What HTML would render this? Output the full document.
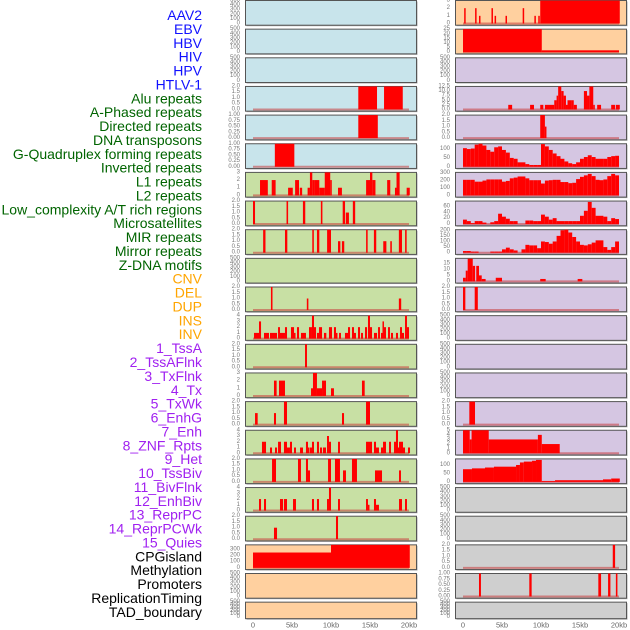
<!DOCTYPE html>
<html><head><meta charset="utf-8"><style>
html,body{margin:0;padding:0;background:#fff;}
svg{display:block;font-family:"Liberation Sans",sans-serif;}
</style></head><body>
<svg id="chart" width="630" height="630" viewBox="0 0 630 630" xmlns="http://www.w3.org/2000/svg"></svg>
<script>
// ---- labels ----
const labelTexts = ["AAV2","EBV","HBV","HIV","HPV","HTLV-1","Alu repeats","A-Phased repeats","Directed repeats","DNA transposons","G-Quadruplex forming repeats","Inverted repeats","L1 repeats","L2 repeats","Low_complexity A/T rich regions","Microsatellites","MIR repeats","Mirror repeats","Z-DNA motifs","CNV","DEL","DUP","INS","INV","1_TssA","2_TssAFlnk","3_TxFlnk","4_Tx","5_TxWk","6_EnhG","7_Enh","8_ZNF_Rpts","9_Het","10_TssBiv","11_BivFlnk","12_EnhBiv","13_ReprPC","14_ReprPCWk","15_Quies","CPGisland","Methylation","Promoters","ReplicationTiming","TAD_boundary"];
const labelGroups = [6,13,5,15,5];
const groupColors = ["#1010ff","#006400","#ffa500","#a020f0","#000000"];
const xTickLabels = ["0","5kb","10kb","15kb","20kb"];
const xTickKb = [0,5,10,15,20];

// ---- data: segments [startKb, endKb, value] ----
const ebv = [[0.15,0.3,2],[1.55,1.7,2],[2.05,2.2,1],[3.65,3.8,2],[4.05,4.2,1],[5.45,5.6,1],[7.65,7.8,2],[9.15,9.3,1],[9.65,9.8,1],[9.9,20.1,3]];
const hiv = [[0,10.1,25],[10.1,20,2]];
const alu = [[13.5,15.9,2],[16.8,19.2,2]];
const aphased = [[5.8,6.3,2.5],[8.6,9.1,2.5],[9.9,10.3,2.5],[10.5,11.7,2.5],[11.7,12.0,5],[12.0,12.2,7.5],[12.2,12.6,12.5],[12.6,12.9,10],[12.9,13.2,7.5],[13.2,13.4,2.5],[13.4,13.9,5],[13.9,14.2,5],[14.2,14.6,2.5],[15.5,15.9,10],[15.9,16.2,7.5],[16.2,16.7,12.5],[16.7,16.9,2.5],[17.2,17.7,2.5],[19.0,19.5,2.5],[19.6,20.1,2.5]];
const directed = [[13.5,16.0,1]];
const dnaTrans = [[9.9,10.5,2],[10.5,10.7,1]];
const gquad = [[2.8,5.3,1]];
const invertedBins = [105,100,103,125,130,120,95,85,110,115,95,80,50,45,25,25,15,10,10,10,128,115,95,75,60,45,30,20,15,25,45,55,65,55,45,45,45,55,60,62];
const l1 = [[0.9,1.9,2],[2.4,2.9,2],[4.5,5.1,1],[5.4,5.9,2],[6.0,6.3,1],[7.0,7.3,1],[7.3,7.6,3],[7.6,7.9,2],[7.9,8.5,2],[8.5,9.2,1],[9.2,9.9,3],[9.9,10.1,2],[10.9,11.4,1],[14.5,15.0,2],[15.0,15.3,3],[15.3,15.7,2],[17.2,17.6,2],[18.2,18.4,1],[18.4,18.8,3],[19.7,20.1,1]];
const l2Bins = [210,210,210,185,185,200,215,215,215,215,185,195,230,240,255,255,230,205,205,205,160,200,205,210,210,180,180,165,170,220,250,270,290,260,210,205,215,260,290,270];
const lowComplex = [[0,0.26,2],[4.3,4.5,2],[6.4,6.7,2],[8.7,8.9,2],[11.5,11.8,2],[11.9,12.3,1],[12.8,13.1,2]];
const microBins = [15,10,3,10,10,5,0,6,10,35,25,18,10,10,0,0,12,12,10,10,32,25,15,20,10,10,10,10,10,10,28,45,75,55,28,28,25,10,20,17];
const mir = [[1.3,1.6,2],[4.1,4.4,2],[7.6,7.8,2],[8.2,8.5,2],[9.5,10.0,2],[10.9,11.2,1],[11.4,11.7,1],[14.5,14.7,2],[15.5,15.8,2],[16.7,17.1,1],[17.6,17.8,1],[18.7,19.1,2],[19.5,19.7,2]];
const mirrorBins = [15,15,10,10,0,0,0,10,10,10,30,45,30,20,0,30,70,65,65,40,100,95,80,100,150,200,205,180,140,100,70,65,75,90,110,110,50,25,50,100];
const cnv = [[0,0.35,3],[0.35,0.6,9],[0.6,1.25,19],[1.25,1.55,13],[1.7,2.05,13],[2.05,2.4,5],[2.4,2.9,2],[4.2,5.0,3],[9.9,10.6,2],[14.7,15.3,2]];
const del = [[2.3,2.5,2],[6.9,7.1,1],[18.7,19.0,1]];
const dup = [[0,0.3,2],[1.5,1.9,2]];
const ins = [[0.13,0.77,1],[0.77,1.03,3],[1.41,2.05,1],[2.18,3.08,1],[3.21,3.46,2],[3.46,4.1,1],[4.1,4.36,2],[4.87,5.26,2],[5.26,5.38,1],[5.64,5.9,2],[6.15,6.79,1],[7.18,7.56,2],[7.56,7.82,4],[7.82,8.08,2],[8.2,8.46,1],[8.46,8.85,2],[9.1,9.4,1],[9.74,10.13,2],[10.38,10.64,2],[10.64,10.77,1],[11.03,11.28,1],[11.79,12.18,1],[12.18,12.44,2],[12.69,12.95,2],[12.95,13.2,1],[13.46,13.72,2],[13.85,14.1,1],[14.36,14.62,2],[14.74,15.0,4],[15.0,15.26,2],[15.51,15.9,1],[16.03,16.28,2],[16.41,16.6,1],[16.6,16.79,3],[16.79,17.05,2],[17.31,17.56,2],[17.69,17.95,1],[18.33,18.59,1],[18.85,19.1,2],[19.1,19.36,1],[19.49,19.74,4],[19.74,20.0,2]];
const tssA = [[6.67,6.92,2]];
const txFlnk = [[2.69,3.03,2],[3.33,4.1,2],[7.44,7.69,1],[7.69,8.2,3],[8.2,8.85,1],[8.85,9.36,2],[10.0,10.38,1],[13.97,14.32,2]];
const txWk = [[0.26,0.6,1],[2.69,2.95,1],[3.97,4.36,2],[11.41,11.67,1],[14.49,15.0,2]];
const enhG = [[0.81,1.54,2]];
const enh = [[1.15,1.67,2],[2.18,2.44,1],[2.82,3.08,1],[3.21,3.59,2],[3.97,4.36,2],[4.36,4.74,1],[4.74,5.0,2],[5.26,5.51,1],[6.03,6.41,1],[6.79,7.05,2],[7.05,7.18,1],[7.31,7.56,1],[7.56,7.82,2],[8.2,8.46,2],[8.59,8.85,1],[8.97,9.36,1],[9.49,9.74,3],[9.74,10.0,2],[10.9,11.15,2],[14.49,15.26,2],[15.51,15.77,2],[15.77,16.15,1],[16.41,16.67,1],[16.67,17.05,2],[17.44,17.69,2],[18.08,18.33,2],[18.33,18.59,4],[18.59,18.72,1],[18.72,19.23,2],[19.23,19.49,1],[19.87,20.13,1]];
const znf = [[0,0.86,5],[0.86,1.1,3],[1.1,3.3,5],[3.3,9.6,3],[9.6,10.1,4],[10.1,12.4,2]];
const het = [[2.44,2.95,2],[5.77,6.15,2],[6.79,7.05,2],[7.05,7.31,1],[9.62,10.0,2],[10.51,11.15,2],[11.54,11.92,1],[12.69,13.33,2],[15.64,16.54,1],[18.72,18.97,1]];
const tssBiv = [[0,1.15,75],[1.15,2.82,80],[2.82,3.97,85],[3.97,6.8,90],[6.8,7.3,100],[7.3,7.8,115],[7.8,8.85,120],[8.85,9.36,125],[9.36,10.1,130],[10.1,11.8,5],[11.8,17.95,10],[17.95,19.0,15],[19.0,20.1,20]];
const bivFlnk = [[0.77,1.03,2],[1.41,1.67,2],[3.46,3.85,2],[3.97,4.36,2],[5.13,5.51,2],[7.56,7.82,2],[8.2,8.46,2],[9.49,9.74,2],[9.74,10.0,4],[10.9,11.15,2],[14.49,14.74,2],[14.74,14.9,1],[15.51,15.77,2],[15.77,16.15,1],[18.72,19.1,2],[19.49,19.74,2]];
const reprPC = [[2.69,3.08,1],[10.64,10.9,2]];
const methyl = [[0,10,250],[10,20.1,375]];
const cpg = [[19.2,19.5,2]];
const promoters = [[2.05,2.3,1],[8.5,8.8,1],[17.35,17.7,1],[18.6,18.9,1],[19.6,19.8,1]];

function bins(arr){ return arr.map((v,i)=>[i*0.5,(i+1)*0.5,v]); }

const T500 = [[0,"0"],[100,"100"],[200,"200"],[300,"300"],[400,"400"],[500,"500"]];
const T2 = [[0,"0.0"],[0.5,"0.5"],[1,"1.0"],[1.5,"1.5"],[2,"2.0"]];
const T1 = [[0,"0.00"],[0.25,"0.25"],[0.5,"0.50"],[0.75,"0.75"],[1,"1.00"]];
const T3 = [[0,"0"],[1,"1"],[2,"2"],[3,"3"]];
const T4 = [[0,"0"],[1,"1"],[2,"2"],[3,"3"],[4,"4"]];
const BLUE="#c8e4eb", GREEN="#c8e0a4", ORANGE="#ffd09f", PURPLE="#d5c6e2", GRAY="#cfcfcf";

// [name, bg, ymax, ticks, data]
const leftPanels = [
 ["aav2",BLUE,500,T500,null],["hbv",BLUE,500,T500,null],["hpv",BLUE,500,T500,null],
 ["alu",BLUE,2,T2,alu],["directed",BLUE,1,T1,directed],["gquad",BLUE,1,T1,gquad],
 ["l1",GREEN,3,T3,l1],["low-complexity",GREEN,2,T2,lowComplex],["mir",GREEN,2,T2,mir],
 ["zdna",GREEN,500,T500,null],["del",GREEN,2,T2,del],["ins",GREEN,4,T4,ins],
 ["tssa",GREEN,2,T2,tssA],["txflnk",GREEN,3,T3,txFlnk],["txwk",GREEN,2,T2,txWk],
 ["enh",GREEN,4,T4,enh],["het",GREEN,2,T2,het],["bivflnk",GREEN,4,T4,bivFlnk],
 ["reprpc",GREEN,2,T2,reprPC],["methylation",ORANGE,375,[[0,"0"],[100,"100"],[200,"200"],[300,"300"]],methyl],
 ["promoters-left",ORANGE,500,T500,null],["replication-timing",ORANGE,500,T500,null]];
const rightPanels = [
 ["ebv",ORANGE,3,T3,ebv],["hiv",ORANGE,25,[[0,"0"],[5,"5"],[10,"10"],[15,"15"],[20,"20"],[25,"25"]],hiv],
 ["htlv1",PURPLE,500,T500,null],
 ["aphased",PURPLE,12.5,[[0,"0.0"],[2.5,"2.5"],[5,"5.0"],[7.5,"7.5"],[10,"10.0"],[12.5,"12.5"]],aphased],
 ["dna-transposons",PURPLE,2,T2,dnaTrans],
 ["inverted",PURPLE,130,[[0,"0"],[50,"50"],[100,"100"]],bins(invertedBins)],
 ["l2",PURPLE,310,[[0,"0"],[100,"100"],[200,"200"],[300,"300"]],bins(l2Bins)],
 ["microsatellites",PURPLE,78,[[0,"0"],[20,"20"],[40,"40"],[60,"60"]],bins(microBins)],
 ["mirror",PURPLE,205,[[0,"0"],[50,"50"],[100,"100"],[150,"150"],[200,"200"]],bins(mirrorBins)],
 ["cnv",PURPLE,19.3,[[0,"0"],[5,"5"],[10,"10"],[15,"15"]],cnv],
 ["dup",PURPLE,2,T2,dup],["inv",PURPLE,500,T500,null],["tssaflnk",PURPLE,500,T500,null],
 ["tx",PURPLE,500,T500,null],["enhg",PURPLE,2,T2,enhG],
 ["znf",PURPLE,5,[[0,"0"],[1,"1"],[2,"2"],[3,"3"],[4,"4"],[5,"5"]],znf],
 ["tssbiv",PURPLE,136,[[0,"0"],[50,"50"],[100,"100"]],tssBiv],
 ["enhbiv",GRAY,500,T500,null],["reprpcwk",GRAY,500,T500,null],
 ["cpgisland",GRAY,2,T2,cpg],["promoters",GRAY,1,T1,promoters],["tad-boundary",GRAY,500,T500,null]];

const NS="http://www.w3.org/2000/svg";
const svg=document.getElementById("chart");
function mk(tag,attrs,parent){const e=document.createElementNS(NS,tag);for(const k in attrs)e.setAttribute(k,attrs[k]);(parent||svg).appendChild(e);return e;}

// labels
let li=0;
labelGroups.forEach((n,g)=>{for(let j=0;j<n;j++){
  const t=mk("text",{x:202,y:15+li*13.88,"text-anchor":"end","dominant-baseline":"central","font-size":"14",fill:groupColors[g]});
  t.textContent=labelTexts[li];
  
  
  li++;}});

const PITCH=28.65, PH=24.7;
function drawPanel(p,row,px0,kb0x){
  const [name,bg,ymax,ticks,data]=p;
  const top=row*PITCH, h=(row===21?16.5:PH), bottom=top+h;
  const g=mk("g",{});
  
  
  mk("rect",{x:px0+1.5,y:top+1.5,width:171,height:h,fill:"#aaa"},g);
  mk("rect",{x:px0+0.5,y:top+0.5,width:171,height:h,fill:bg,stroke:"#555","stroke-width":1},g);
  const zero=bottom-1.2, yS=v=>zero-(v/ymax)*(zero-top-0.5);
  const xS=kb=>kb0x+kb*7.8;
  ticks.forEach(([v,l])=>{
    const t=mk("text",{x:px0-5,y:yS(v),"text-anchor":"end","dominant-baseline":"central","font-size":"6",fill:"#777"},g);
    t.textContent=l;
    
    
  });
  if(data){
    mk("line",{x1:xS(0),x2:xS(20),y1:zero,y2:zero,stroke:"rgba(200,60,60,0.55)","stroke-width":2},g);
    data.forEach(([s,e,v])=>{
      if(v<=0)return;
      const x=xS(s), w=Math.max(1.5,xS(e)-xS(s)), y=yS(v);
      const r=mk("rect",{x:x,y:y,width:w,height:Math.max(0,zero-y),fill:"#ff0000"},g);
      
      
    });
  }
}
leftPanels.forEach((p,i)=>drawPanel(p,i,245,253));
rightPanels.forEach((p,i)=>drawPanel(p,i,455,463));

// x axes
[253,463].forEach(x0=>{
  xTickKb.forEach((kb,i)=>{
    const t=mk("text",{x:x0+kb*7.8,y:625,"text-anchor":"middle","dominant-baseline":"central","font-size":"7.5",fill:"#666"});
    t.textContent=xTickLabels[i];
    
    
  });
});
</script>
</body></html>
